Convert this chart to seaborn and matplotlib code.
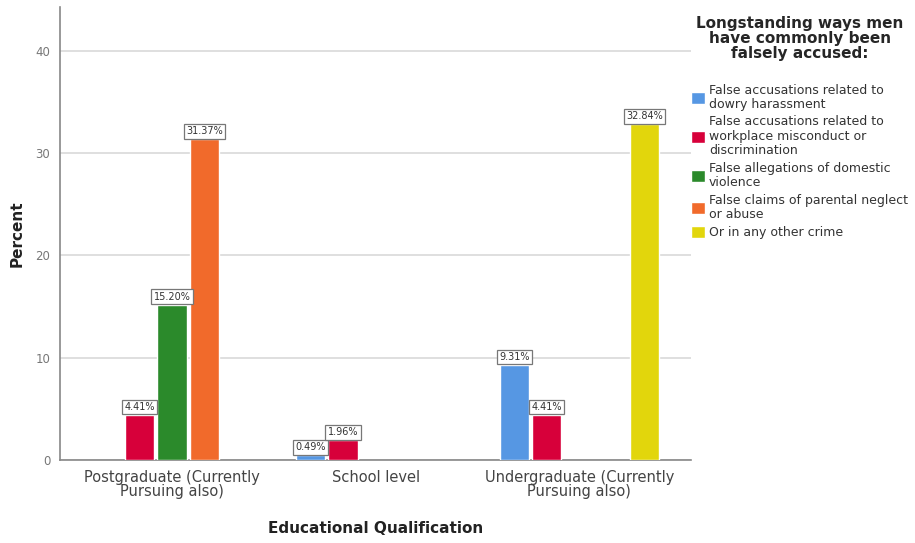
import textwrap
import pandas as pd
import matplotlib
matplotlib.use("Agg")
import matplotlib.pyplot as plt
import seaborn as sns

# data
qualifications = ["Postgraduate (Currently Pursuing also)", "School level",
                  "Undergraduate (Currently Pursuing also)"]
accusations = ["False accusations related to dowry harassment",
               "False accusations related to workplace misconduct or discrimination",
               "False allegations of domestic violence",
               "False claims of parental neglect or abuse",
               "Or in any other crime"]
bar_qual = [qualifications[0], qualifications[0], qualifications[0],
            qualifications[1], qualifications[1],
            qualifications[2], qualifications[2], qualifications[2]]
bar_acc = [accusations[1], accusations[2], accusations[3],
           accusations[0], accusations[1],
           accusations[0], accusations[1], accusations[4]]
percent = [4.41, 15.20, 31.37, 0.49, 1.96, 9.31, 4.41, 32.84]
tick_labels = ["Postgraduate (Currently\nPursuing also)", "School level",
               "Undergraduate (Currently\nPursuing also)"]
colors = ["#5697e3", "#d7003a", "#2b8a2b", "#f16a2b", "#e2d60c"]

df = pd.DataFrame({"Qual": bar_qual, "Acc": bar_acc, "Percent": percent})

sns.set_style("white")
plt.rcParams["font.family"] = ["DejaVu Sans"]

fig = plt.figure(figsize=(9.15, 5.43), dpi=100)
ax = fig.add_axes([0.0656, 0.153, 0.690, 0.834])

sns.barplot(data=df, x="Qual", y="Percent", hue="Acc", order=qualifications,
            hue_order=accusations, palette=colors, saturation=1, width=0.8,
            gap=0.1, ax=ax, zorder=3)

for cont in ax.containers:
    labels = [f"{v:.2f}%" for v in cont.datavalues]
    ax.bar_label(cont, labels=labels, padding=2, fontsize=7, color="#333333",
                 bbox=dict(boxstyle="square,pad=0.25", fc="white", ec="#777777", lw=0.9))

ax.set_xlim(-0.55, 2.55)
ax.set_ylim(0, 44.3)
ax.set_yticks([0, 10, 20, 30, 40])
ax.yaxis.grid(True, color="#d9d9d9", lw=1.2, zorder=0)
ax.set_axisbelow(True)
ax.set_xticks(range(3))
ax.set_xticklabels(tick_labels, fontsize=10.5, color="#444444", linespacing=0.95)
ax.tick_params(axis="y", labelsize=8.5, labelcolor="#777777", length=0, pad=7)
ax.tick_params(axis="x", length=0, pad=7)
for s in ["top", "right"]:
    ax.spines[s].set_visible(False)
for s in ["left", "bottom"]:
    ax.spines[s].set_color("#888888")
    ax.spines[s].set_linewidth(1.2)

ax.set_xlabel("Educational Qualification", fontsize=11, fontweight="bold",
              color="#222222", labelpad=16)
ax.set_ylabel("Percent", fontsize=11, fontweight="bold", color="#222222", labelpad=8)

handles, _ = ax.get_legend_handles_labels()
leg = ax.legend(handles, [textwrap.fill(a, 32) for a in accusations],
                title="Longstanding ways men\nhave commonly been\nfalsely accused:",
                loc="upper left", bbox_to_anchor=(0.996, 0.985), frameon=False,
                fontsize=9, handlelength=1.1, handleheight=1.1, handletextpad=0.3,
                labelspacing=0.35, borderaxespad=0.0, borderpad=0.2)
title = leg.get_title()
title.set_fontsize(11)
title.set_fontweight("bold")
title.set_linespacing(1.0)
title.set_multialignment("center")
leg._legend_box.align = "center"
leg._legend_box.sep = 16
for t in leg.get_texts():
    t.set_linespacing(1.15)
    t.set_color("#333333")

fig.savefig("out.png", dpi=100)
